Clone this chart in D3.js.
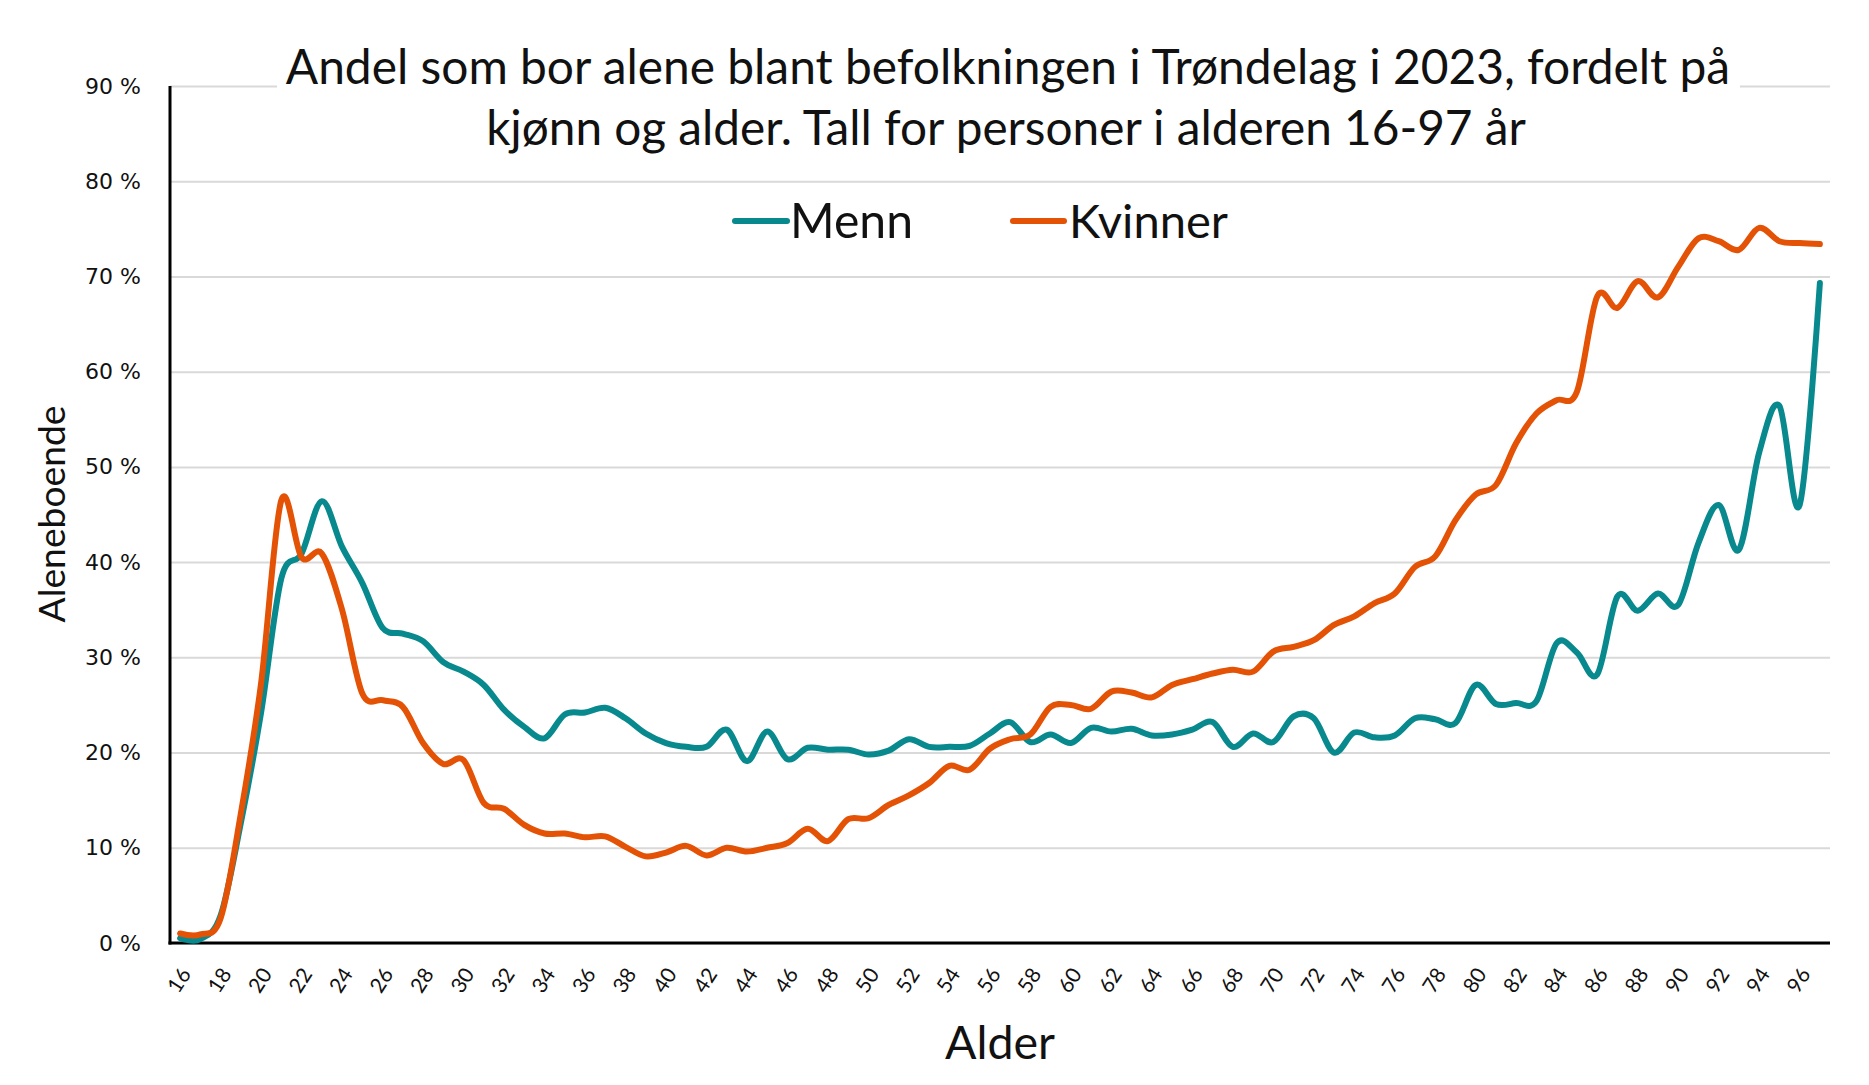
<!DOCTYPE html>
<html>
<head>
<meta charset="utf-8">
<script src="https://cdn.jsdelivr.net/npm/d3@7"></script>
<style>
  html, body { margin: 0; padding: 0; background: #fff; }
  svg { display: block; }
</style>
</head>
<body>
<svg id="chart"></svg>
<script>
const ages = d3.range(16, 98);   // 16..97
const tickAges = d3.range(16, 97, 2);
const yTicks = [0, 10, 20, 30, 40, 50, 60, 70, 80, 90];

const titleLines = [
  "Andel som bor alene blant befolkningen i Trøndelag i 2023, fordelt på",
  "kjønn og alder. Tall for personer i alderen 16-97 år"
];
const seriesNames = ["Menn", "Kvinner"];
const seriesColors = ["#07898E", "#E35205"];

// Andel aleneboende (%) per alder 16..97
const menn = [
  0.5, 0.4, 2.9, 12.6, 24.2, 38.3, 40.9, 46.4, 41.6, 37.8,
  33.1, 32.5, 31.7, 29.5, 28.5, 27.1, 24.5, 22.7, 21.5, 24.0,
  24.2, 24.7, 23.6, 22.0, 21.0, 20.6, 20.6, 22.4, 19.1, 22.2,
  19.3, 20.5, 20.3, 20.3, 19.8, 20.2, 21.4, 20.6, 20.6, 20.7,
  22.0, 23.2, 21.1, 21.9, 21.0, 22.6, 22.2, 22.5, 21.8, 21.9,
  22.4, 23.2, 20.6, 22.0, 21.1, 23.8, 23.6, 20.0, 22.1, 21.6,
  21.8, 23.6, 23.5, 23.1, 27.1, 25.1, 25.2, 25.4, 31.5, 30.5,
  28.2, 36.4, 34.9, 36.7, 35.5, 42.0, 46.0, 41.3, 51.5, 56.4,
  46.0, 69.3
];
const kvinner = [
  1.0, 0.9, 2.6, 13.6, 27.3, 46.5, 40.5, 40.9, 35.0, 26.2,
  25.5, 24.8, 21.0, 18.8, 19.2, 14.7, 14.1, 12.4, 11.5, 11.5,
  11.1, 11.2, 10.1, 9.1, 9.5, 10.2, 9.2, 10.0, 9.6, 10.0,
  10.5, 12.0, 10.7, 13.0, 13.1, 14.5, 15.5, 16.8, 18.6, 18.2,
  20.4, 21.4, 21.9, 24.8, 25.0, 24.6, 26.4, 26.3, 25.8, 27.1,
  27.7, 28.3, 28.7, 28.5, 30.6, 31.1, 31.8, 33.4, 34.3, 35.7,
  36.7, 39.5, 40.6, 44.4, 47.1, 48.1, 52.5, 55.6, 57.0, 57.9,
  67.9, 66.7, 69.5, 67.8, 71.0, 74.0, 73.7, 72.8, 75.1, 73.7,
  73.5, 73.4
];

const W = 1869, H = 1085;
const plot = { left: 170, right: 1830, top: 86, bottom: 943 };
const textFont = "Lato, 'Open Sans', sans-serif";

const svg = d3.select("#chart").attr("width", W).attr("height", H);

const x = d3.scalePoint().domain(ages).range([plot.left, plot.right]).padding(0.5);
const y = d3.scaleLinear().domain([0, 90]).range([plot.bottom, plot.top]);

// grid + y tick labels
const yAxis = svg.append("g")
  .attr("transform", `translate(${plot.left},0)`)
  .call(d3.axisLeft(y).tickValues(yTicks).tickSize(-(plot.right - plot.left)).tickPadding(29)
    .tickFormat(d => d + " %"));
yAxis.select(".domain").remove();
yAxis.selectAll(".tick line").attr("stroke", "#d9d9d9").attr("stroke-width", 2);
yAxis.selectAll(".tick text")
  .attr("font-family", "'DejaVu Sans', sans-serif")
  .attr("font-size", 22).attr("fill", "#111");

// white box behind title hides the top gridline
svg.append("rect").attr("x", 277).attr("y", 40).attr("width", 1463).attr("height", 120).attr("fill", "#fff");

// fit a text element to a target width by scaling its font size
function fitWidth(sel, target) {
  const w = sel.node().getComputedTextLength();
  const fs = parseFloat(sel.attr("font-size"));
  sel.attr("font-size", fs * target / w);
}

// title
const titleSpec = [{ cx: 1008, base: 84, w: 1445 }, { cx: 1006, base: 145, w: 1040 }];
titleLines.forEach((t, i) => {
  const el = svg.append("text")
    .attr("x", titleSpec[i].cx).attr("y", titleSpec[i].base)
    .attr("text-anchor", "middle")
    .attr("font-family", textFont).attr("font-size", 50).attr("fill", "#111")
    .text(t);
  fitWidth(el, titleSpec[i].w);
});

// axes lines
svg.append("line").attr("x1", plot.left).attr("x2", plot.left).attr("y1", plot.top).attr("y2", plot.bottom + 1.5)
  .attr("stroke", "#000").attr("stroke-width", 3);
const xAxis = svg.append("g")
  .attr("transform", `translate(0,${plot.bottom})`)
  .call(d3.axisBottom(x).tickValues(tickAges).tickSize(0).tickPadding(0));
xAxis.select(".domain").remove();
svg.append("line").attr("x1", plot.left - 1.5).attr("x2", plot.right).attr("y1", plot.bottom).attr("y2", plot.bottom)
  .attr("stroke", "#000").attr("stroke-width", 3);
xAxis.selectAll(".tick text")
  .attr("font-family", textFont).attr("font-size", 21).attr("fill", "#111")
  .attr("text-anchor", "end")
  .attr("dy", "0.35em")
  .attr("transform", "translate(5,27) rotate(-57)");

// lines
const line = d3.line()
  .x((d, i) => x(ages[i]))
  .y(d => y(d))
  .curve(d3.curveCardinal.tension(0));

[menn, kvinner].forEach((vals, i) => {
  svg.append("path")
    .datum(vals)
    .attr("d", line)
    .attr("fill", "none")
    .attr("stroke", seriesColors[i])
    .attr("stroke-width", 6)
    .attr("stroke-linecap", "round")
    .attr("stroke-linejoin", "round");
});

// legend
const legendSpec = [{ x0: 735, x1: 787, tx: 790, w: 123 }, { x0: 1013, x1: 1064, tx: 1069, w: 159 }];
seriesNames.forEach((name, i) => {
  const s = legendSpec[i];
  svg.append("line").attr("x1", s.x0).attr("x2", s.x1).attr("y1", 221).attr("y2", 221)
    .attr("stroke", seriesColors[i]).attr("stroke-width", 6).attr("stroke-linecap", "round");
  const el = svg.append("text").attr("x", s.tx).attr("y", 238)
    .attr("font-family", textFont).attr("font-size", 46).attr("fill", "#111").text(name);
  fitWidth(el, s.w);
});

// axis titles
const yt = svg.append("text")
  .attr("transform", "translate(65,514) rotate(-90)")
  .attr("text-anchor", "middle")
  .attr("font-family", textFont).attr("font-size", 38).attr("fill", "#111")
  .text("Aleneboende");
fitWidth(yt, 217);

const xt = svg.append("text")
  .attr("x", 1000).attr("y", 1059)
  .attr("text-anchor", "middle")
  .attr("font-family", textFont).attr("font-size", 48).attr("fill", "#111")
  .text("Alder");
fitWidth(xt, 110);
</script>
</body>
</html>
